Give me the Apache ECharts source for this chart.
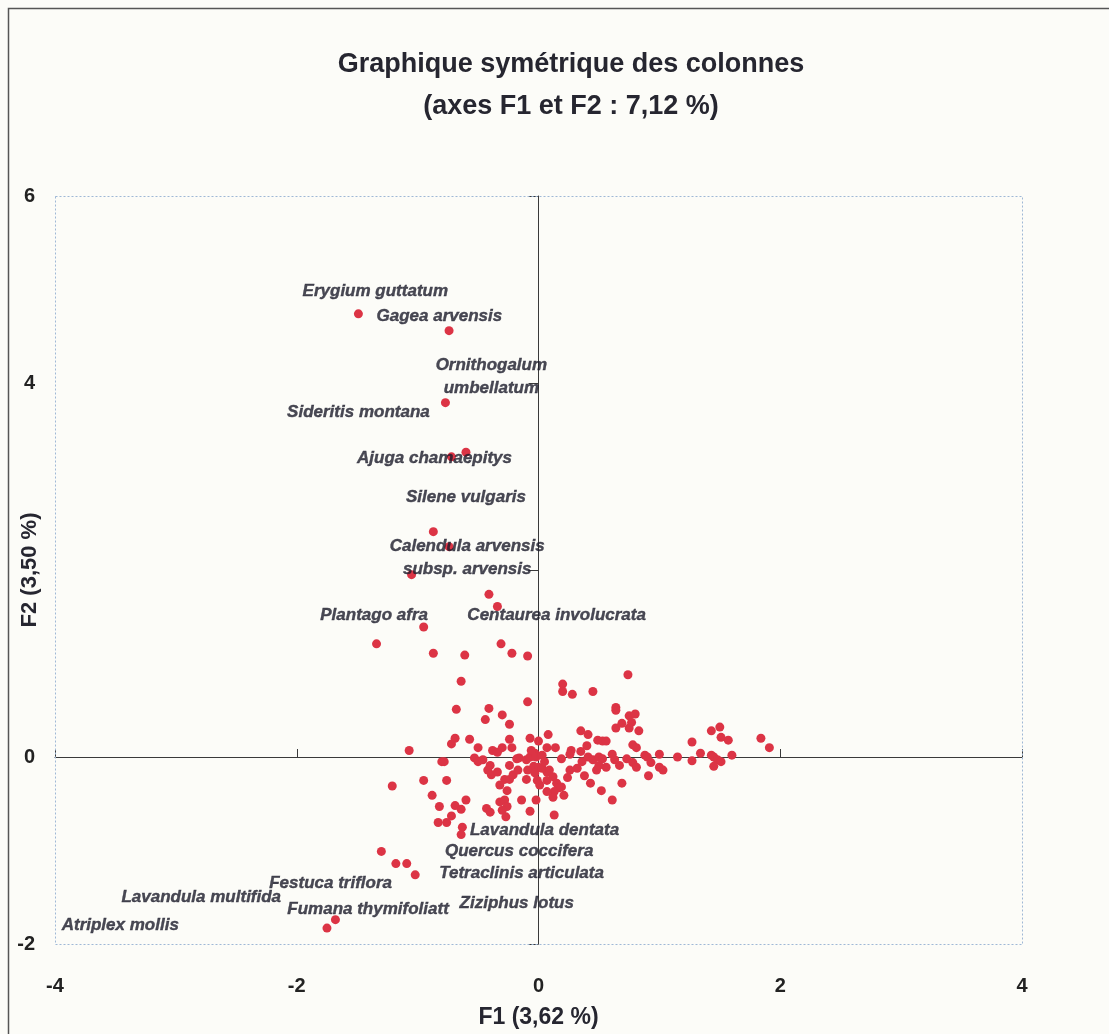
<!DOCTYPE html>
<html>
<head>
<meta charset="utf-8">
<script src="https://cdn.jsdelivr.net/npm/echarts@6/dist/echarts.min.js"></script>
<style>
html,body{margin:0;padding:0;background:#fcfcf8;}
#chart{width:1109px;height:1034px;}
</style>
</head>
<body>
<div id="chart"></div>
<script>
// Species (column) coordinates on F1 / F2
const F1 = [
-1.49,-0.74,-0.77,-0.60,-0.72,-0.87,-0.74,-1.05,-0.41,-0.34,
-0.95,-1.34,-0.87,-0.61,-0.31,-0.22,-0.09,0.74,-0.64,-0.09,
0.20,0.20,0.28,0.45,-0.68,-0.41,-0.30,-0.44,-0.24,0.64,
0.64,0.75,0.80,0.77,0.64,0.69,0.75,0.83,0.35,0.41,
0.49,0.53,0.56,-0.69,-0.72,-0.57,-1.07,-0.50,-0.38,-0.34,
-0.30,-0.22,-0.24,-0.07,0.00,0.08,0.07,0.14,0.27,0.26,
0.35,0.40,0.61,0.78,0.81,0.88,0.90,1.00,1.15,1.27,
1.34,1.43,1.50,1.51,1.57,1.43,1.45,1.48,1.51,1.45,
1.60,1.84,1.91,1.27,1.00,1.03,-0.80,-0.78,-1.21,-0.95,
-0.76,-0.88,-0.82,-0.69,-0.64,-0.60,-0.72,-0.53,-0.50,-0.46,
-0.40,-0.42,-0.39,-0.28,-0.24,-0.21,-0.24,-0.26,-0.10,-0.16,
-0.10,-0.07,-0.03,-0.02,-0.04,0.00,0.03,-0.03,-0.01,0.03,
0.07,0.09,0.12,0.07,0.15,0.17,0.13,0.12,0.01,0.19,
0.26,0.24,0.19,0.13,-0.02,-0.07,-0.14,0.38,0.43,0.52,
0.61,0.69,0.41,0.45,0.50,0.53,0.56,0.48,0.50,0.73,
0.78,0.81,0.93,0.91,-0.32,-0.28,-0.26,-0.30,-0.27,-0.43,
-0.40,-0.83,-0.76,-0.63,-0.64,-1.30,-1.18,-1.09,-1.02,-1.68,
-1.75,-0.18,-0.06,0.05,-0.09,-0.17,0.07,0.21,0.32,0.36,
0.67,0.63,-0.34,-0.32
];
const F2 = [
4.74,4.56,3.79,3.26,3.21,2.41,2.25,1.95,1.74,1.61,
1.39,1.21,1.11,1.09,1.21,1.11,1.08,0.88,0.81,0.59,
0.78,0.70,0.67,0.70,0.51,0.52,0.45,0.40,0.35,0.53,
0.50,0.44,0.46,0.37,0.31,0.36,0.31,0.28,0.28,0.24,
0.18,0.17,0.17,0.20,0.14,0.19,0.07,0.10,0.07,0.05,
0.10,0.10,0.19,0.20,0.17,0.24,0.10,0.10,0.07,0.03,
0.06,0.12,0.03,0.13,0.10,0.02,0.00,0.03,0.00,0.16,
0.04,0.28,0.32,0.21,0.18,0.02,0.00,-0.03,-0.05,-0.10,
0.02,0.20,0.10,-0.04,-0.11,-0.14,-0.05,-0.05,-0.31,-0.25,
-0.25,-0.41,-0.53,-0.52,-0.56,-0.46,-0.63,-0.01,-0.05,-0.03,
-0.09,-0.14,-0.19,-0.24,-0.24,-0.19,-0.09,-0.36,-0.24,-0.01,
-0.03,0.00,0.04,0.00,-0.10,-0.11,0.02,-0.17,-0.25,-0.12,
-0.16,-0.14,-0.21,-0.25,-0.28,-0.33,-0.37,-0.43,-0.30,-0.02,
-0.14,-0.22,-0.32,-0.62,-0.46,-0.58,-0.46,-0.20,-0.28,-0.36,
-0.46,-0.28,0.00,-0.03,0.00,-0.02,-0.11,-0.14,-0.09,-0.02,
-0.06,-0.11,-0.06,-0.20,-0.48,-0.46,-0.53,-0.57,-0.64,-0.55,
-0.59,-0.70,-0.70,-0.75,-0.83,-1.01,-1.14,-1.14,-1.26,-1.74,
-1.83,-0.02,0.07,-0.05,-0.14,-0.14,-0.37,-0.41,-0.12,-0.05,
-0.09,-0.03,-0.16,-0.30
];

// Species names and where their labels sit
const labelNames = [
"Erygium guttatum","Gagea arvensis","Ornithogalum\numbellatum","Sideritis montana",
"Ajuga chamaepitys","Silene vulgaris","Calendula arvensis\nsubsp. arvensis","Plantago afra",
"Centaurea involucrata","Lavandula dentata","Quercus coccifera","Tetraclinis articulata",
"Ziziphus lotus","Festuca triflora","Lavandula multifida","Fumana thymifoliatt","Atriplex mollis"
];
const labelF1 = [-1.35,-0.82,-0.39,-1.49,-0.86,-0.60,-0.59,-1.36,0.15,0.05,-0.16,-0.14,-0.18,-1.72,-2.79,-1.41,-3.46];
const labelF2 = [4.98,4.71,4.07,3.69,3.19,2.78,2.13,1.52,1.52,-0.78,-1.01,-1.24,-1.57,-1.35,-1.50,-1.63,-1.80];

const titleText = "Graphique symétrique des colonnes\n(axes F1 et F2 : 7,12 %)";
const xName = "F1 (3,62 %)";
const yName = "F2 (3,50 %)";
const hiddenYTicks = [2];

const chart = echarts.init(document.getElementById('chart'), null, {renderer:'canvas'});
const FONT = "'Liberation Sans', Arial, sans-serif";

const points = F1.map((x,i)=>[x,F2[i]]);
const labels = labelNames.map((n,i)=>({name:n, value:[labelF1[i],labelF2[i]]}));

const option = {
  backgroundColor:'#fcfcf8',
  animation:false,
  title:{
    text:titleText,
    left:566, top:39, textAlign:'center',
    textStyle:{fontFamily:FONT, fontSize:27, fontWeight:'bold', color:'#262630', lineHeight:42}
  },
  graphic:[
    {type:'rect', shape:{x:8.5,y:8.5,width:1200,height:1200}, style:{fill:null, stroke:'#555', lineWidth:1.5}, silent:true},
    {type:'rect', shape:{x:55.5,y:196.5,width:967,height:748}, style:{fill:null, stroke:'#9fb8d6', lineWidth:1, lineDash:[2,2]}, silent:true, z:1}
  ],
  grid:{left:55, right:87, top:196, bottom:90, show:false, containLabel:false, outerBoundsMode:'none'},
  xAxis:[
    {type:'value', min:-4, max:4, interval:2, position:'bottom',
     axisLine:{show:false, onZero:false}, axisTick:{show:false}, splitLine:{show:false},
     axisLabel:{fontFamily:FONT, fontSize:20, fontWeight:'bold', color:'#222', margin:32},
     name:xName, nameLocation:'middle', nameGap:62, nameMoveOverlap:false,
     nameTextStyle:{fontFamily:FONT, fontSize:23, fontWeight:'bold', color:'#262630'}},
    {type:'value', min:-4, max:4, interval:2,
     axisLine:{show:true, onZero:true, onZeroAxisIndex:0, lineStyle:{color:'#3a3a3a', width:1}},
     axisTick:{show:true, length:8, lineStyle:{color:'#3a3a3a'}}, axisLabel:{show:false}, splitLine:{show:false}}
  ],
  yAxis:[
    {type:'value', min:-2, max:6, interval:2, position:'left',
     axisLine:{show:false, onZero:false}, axisTick:{show:false}, splitLine:{show:false},
     axisLabel:{fontFamily:FONT, fontSize:20, fontWeight:'bold', color:'#222', margin:20,
       formatter:v=>hiddenYTicks.includes(v)?'':String(v)},
     name:yName, nameLocation:'middle', nameGap:14, nameRotate:90, nameMoveOverlap:false,
     nameTextStyle:{fontFamily:FONT, fontSize:22, fontWeight:'bold', color:'#262630'}},
    {type:'value', min:-2, max:6, interval:2,
     axisLine:{show:true, onZero:true, onZeroAxisIndex:0, lineStyle:{color:'#3a3a3a', width:1}},
     axisTick:{show:true, inside:true, length:10, lineStyle:{color:'#3a3a3a'}}, axisLabel:{show:false}, splitLine:{show:false}}
  ],
  series:[
    {type:'scatter', xAxisIndex:0, yAxisIndex:0, data:points, symbolSize:9,
     itemStyle:{color:'#dc3445', opacity:1}, z:3},
    {type:'scatter', xAxisIndex:0, yAxisIndex:0, data:labels, symbolSize:0, z:4,
     label:{show:true, position:'inside', formatter:'{b}', fontFamily:FONT, fontSize:17,
       fontStyle:'italic', fontWeight:'bold', color:'#1c1c2a', lineHeight:23,
       textBorderColor:'#1c1c2a', textBorderWidth:0.4}}
  ]
};
chart.setOption(option);
</script>
</body>
</html>
